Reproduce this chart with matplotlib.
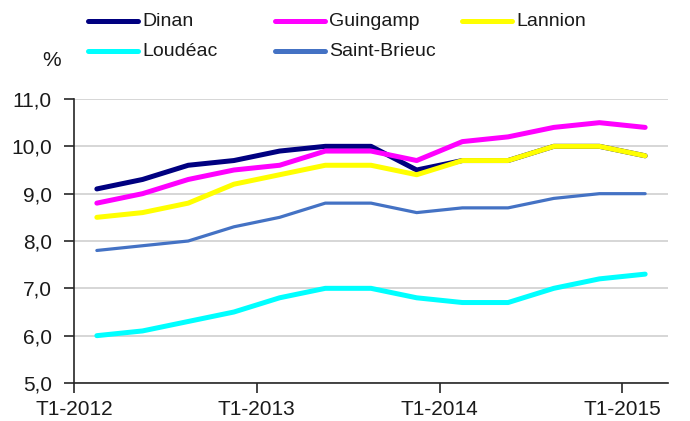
import matplotlib
matplotlib.use("Agg")
import matplotlib.pyplot as plt
from matplotlib.lines import Line2D

plt.rcParams['font.family'] = ['Liberation Sans', 'DejaVu Sans']

quarters = list(range(13))
tick_labels = ["T1-2012", "T1-2013", "T1-2014", "T1-2015"]
series_names = ["Dinan", "Guingamp", "Lannion", "Loudéac", "Saint-Brieuc"]
dinan = [9.1, 9.3, 9.6, 9.7, 9.9, 10.0, 10.0, 9.5, 9.7, 9.7, 10.0, 10.0, 9.8]
guingamp = [8.8, 9.0, 9.3, 9.5, 9.6, 9.9, 9.9, 9.7, 10.1, 10.2, 10.4, 10.5, 10.4]
lannion = [8.5, 8.6, 8.8, 9.2, 9.4, 9.6, 9.6, 9.4, 9.7, 9.7, 10.0, 10.0, 9.8]
loudeac = [6.0, 6.1, 6.3, 6.5, 6.8, 7.0, 7.0, 6.8, 6.7, 6.7, 7.0, 7.2, 7.3]
saint_brieuc = [7.8, 7.9, 8.0, 8.3, 8.5, 8.8, 8.8, 8.6, 8.7, 8.7, 8.9, 9.0, 9.0]

values = [dinan, guingamp, lannion, loudeac, saint_brieuc]
colors = ["#000080", "#FF00FF", "#FFFF00", "#00FFFF", "#4472C4"]
widths = [3.6, 3.6, 3.6, 3.6, 2.3]

W, H = 690, 421
fig = plt.figure(figsize=(W / 100, H / 100), dpi=100)
ax = fig.add_axes([74 / W, 1 - 383 / H, (668 - 74) / W, (383 - 99) / H])

for name, vals, c, lw in zip(series_names, values, colors, widths):
    ax.plot(quarters, vals, color=c, lw=lw, solid_capstyle='round',
            solid_joinstyle='round', label=name, zorder=3)

ax.set_xlim(-0.5, 12.5)
ax.set_ylim(5.0, 11.0)
ax.set_yticks([5, 6, 7, 8, 9, 10, 11])
ax.set_yticklabels([f"{v:.1f}".replace(".", ",") for v in [5, 6, 7, 8, 9, 10, 11]])
ax.set_xticks([-0.5, 3.5, 7.5, 11.5])
ax.set_xticklabels(tick_labels)

ax.yaxis.grid(True, color="#D0D0D0", lw=1.2, zorder=0)
ax.set_axisbelow(True)
for s in ["top", "right"]:
    ax.spines[s].set_visible(False)
for s in ["left", "bottom"]:
    ax.spines[s].set_color("#262626")
    ax.spines[s].set_linewidth(1.2)
ax.tick_params(axis='both', direction='out', length=7, width=1.2,
               color="#262626", labelsize=15, labelcolor="#1a1a1a")
ax.tick_params(axis='y', pad=9)
ax.tick_params(axis='x', pad=5)

# percent label
fig.text(52 / W, 1 - 60 / H, "%", fontsize=15, ha='center', va='center',
         color="#1a1a1a")

# legend (Excel-like fixed columns)
col_x = [88, 275, 462]
row_y = [21, 51]
for i, (name, c) in enumerate(zip(series_names, colors)):
    r, k = divmod(i, 3)
    x0 = col_x[k]
    y0 = row_y[r]
    fig.add_artist(Line2D([x0 / W, (x0 + 50) / W], [1 - y0 / H, 1 - y0 / H],
                          transform=fig.transFigure, color=c, lw=3.6,
                          solid_capstyle='round'))
    fig.text((x0 + 54) / W, 1 - y0 / H, name, fontsize=14, ha='left',
             va='center', color="#1a1a1a")

fig.savefig("out.png", dpi=100)
